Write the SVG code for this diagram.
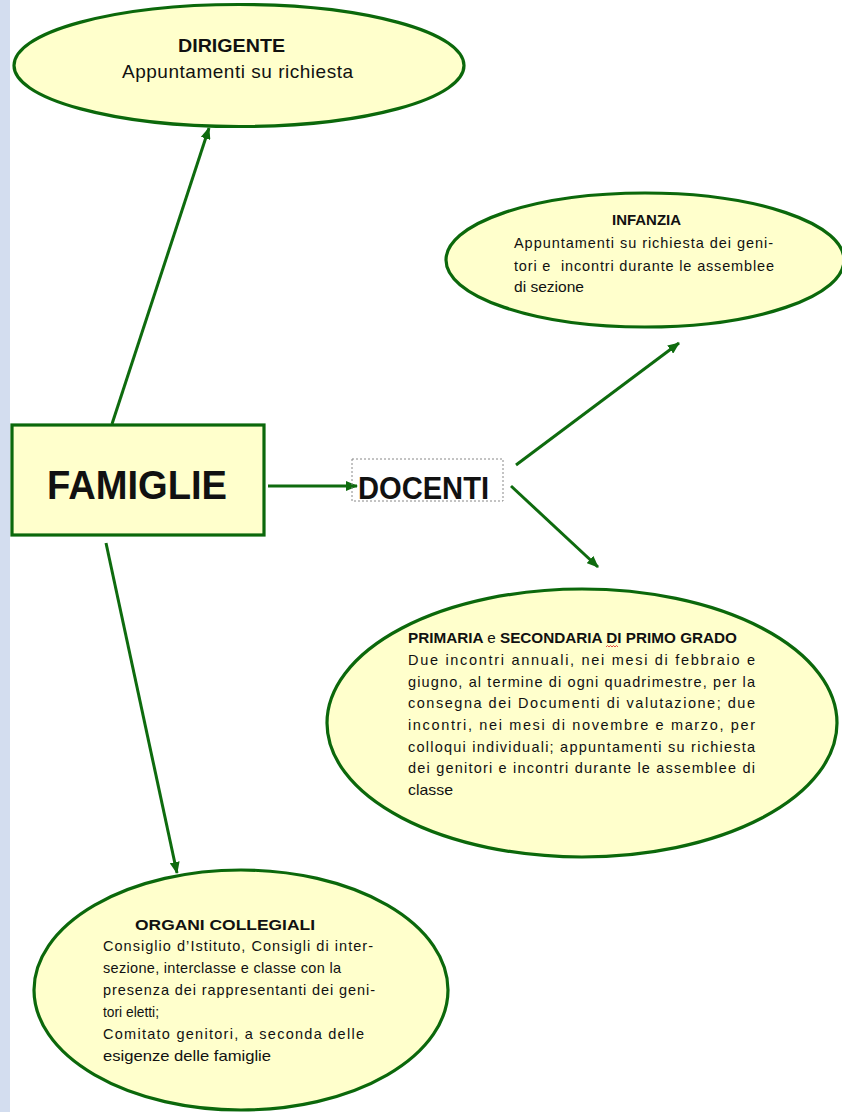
<svg xmlns="http://www.w3.org/2000/svg" width="842" height="1112" viewBox="0 0 842 1112">
<defs>
<marker id="ah" markerUnits="userSpaceOnUse" markerWidth="12" markerHeight="10" refX="11" refY="5" orient="auto">
<path d="M0,0 L12,5 L0,10 z" fill="#0e6b0e"/>
</marker>
<style>
.node{fill:#ffffcc;stroke:#0b680b;stroke-width:3.2}
.conn{stroke:#0e6b0e;stroke-width:3;fill:none;marker-end:url(#ah)}
text{font-family:"Liberation Sans",Arial,sans-serif;fill:#111}
.h{font-weight:bold}
.b{font-size:14.5px}
.hs{font-size:15px;font-weight:bold}
</style>
</defs>
<rect x="0" y="0" width="842" height="1112" fill="#ffffff"/>
<rect x="0" y="0" width="10" height="1112" fill="#d3ddef"/>

<g id="connectors">
<line class="conn" x1="112" y1="424" x2="209" y2="128"/>
<line class="conn" x1="268" y1="486" x2="357" y2="486"/>
<line class="conn" x1="516" y1="465" x2="679" y2="343"/>
<line class="conn" x1="511" y1="486" x2="598" y2="567"/>
<line class="conn" x1="106" y1="543" x2="177" y2="873"/>
</g>

<g id="dirigente">
<ellipse class="node" cx="239" cy="65.5" rx="225" ry="61"/>
<text class="h" x="178" y="52" font-size="18" textLength="107" lengthAdjust="spacingAndGlyphs">DIRIGENTE</text>
<text x="122" y="78" font-size="19" textLength="231">Appuntamenti su richiesta</text>
</g>

<g id="infanzia">
<ellipse class="node" cx="645" cy="260" rx="199" ry="67"/>
<text class="hs" x="612" y="225" textLength="69" lengthAdjust="spacingAndGlyphs">INFANZIA</text>
<text class="b" x="514" y="248" textLength="259">Appuntamenti su richiesta dei geni-</text>
<text class="b" x="514" y="271" textLength="260" style="white-space:pre">tori e  incontri durante le assemblee</text>
<text class="b" x="514" y="292" textLength="70" lengthAdjust="spacingAndGlyphs">di sezione</text>
</g>

<g id="famiglie">
<rect class="node" x="12" y="425" width="252" height="110" stroke-width="3.5"/>
<text class="h" x="47" y="499" font-size="40" textLength="180" lengthAdjust="spacingAndGlyphs">FAMIGLIE</text>
</g>

<g id="docenti">
<rect x="352" y="459" width="151" height="42" fill="none" stroke="#888" stroke-width="1" stroke-dasharray="2,2"/>
<text class="h" x="358" y="499" font-size="32" textLength="131" lengthAdjust="spacingAndGlyphs">DOCENTI</text>
</g>

<g id="primaria">
<ellipse class="node" cx="582" cy="723" rx="255" ry="134"/>
<text class="hs" x="408" y="643" font-size="14" textLength="329" lengthAdjust="spacingAndGlyphs">PRIMARIA <tspan font-weight="normal">e</tspan> SECONDARIA DI PRIMO GRADO</text>
<path d="M606,647 l1.5,-1.5 l1.5,1.5 l1.5,-1.5 l1.5,1.5 l1.5,-1.5 l1.5,1.5 l1.5,-1.5 l1.5,1.5" fill="none" stroke="#e02020" stroke-width="0.8"/>
<text class="b" x="408" y="665" textLength="347">Due incontri annuali, nei mesi di febbraio e</text>
<text class="b" x="408" y="687" textLength="347">giugno, al termine di ogni quadrimestre, per la</text>
<text class="b" x="408" y="708" textLength="347">consegna dei Documenti di valutazione; due</text>
<text class="b" x="408" y="730" textLength="347">incontri, nei mesi di novembre e marzo, per</text>
<text class="b" x="408" y="752" textLength="347">colloqui individuali; appuntamenti su richiesta</text>
<text class="b" x="408" y="773" textLength="347">dei genitori e incontri durante le assemblee di</text>
<text class="b" x="408" y="795" textLength="45" lengthAdjust="spacingAndGlyphs">classe</text>
</g>

<g id="organi">
<ellipse class="node" cx="241" cy="990" rx="207" ry="120"/>
<text class="hs" x="135" y="930" textLength="180" lengthAdjust="spacingAndGlyphs">ORGANI COLLEGIALI</text>
<text class="b" x="103" y="951" textLength="270">Consiglio d’Istituto, Consigli di inter-</text>
<text class="b" x="103" y="973" textLength="238">sezione, interclasse e classe con la</text>
<text class="b" x="103" y="995" textLength="272">presenza dei rappresentanti dei geni-</text>
<text class="b" x="103" y="1017" textLength="56" lengthAdjust="spacingAndGlyphs">tori eletti;</text>
<text class="b" x="103" y="1039" textLength="261">Comitato genitori, a seconda delle</text>
<text class="b" x="103" y="1061" textLength="168" lengthAdjust="spacingAndGlyphs">esigenze delle famiglie</text>
</g>
</svg>
